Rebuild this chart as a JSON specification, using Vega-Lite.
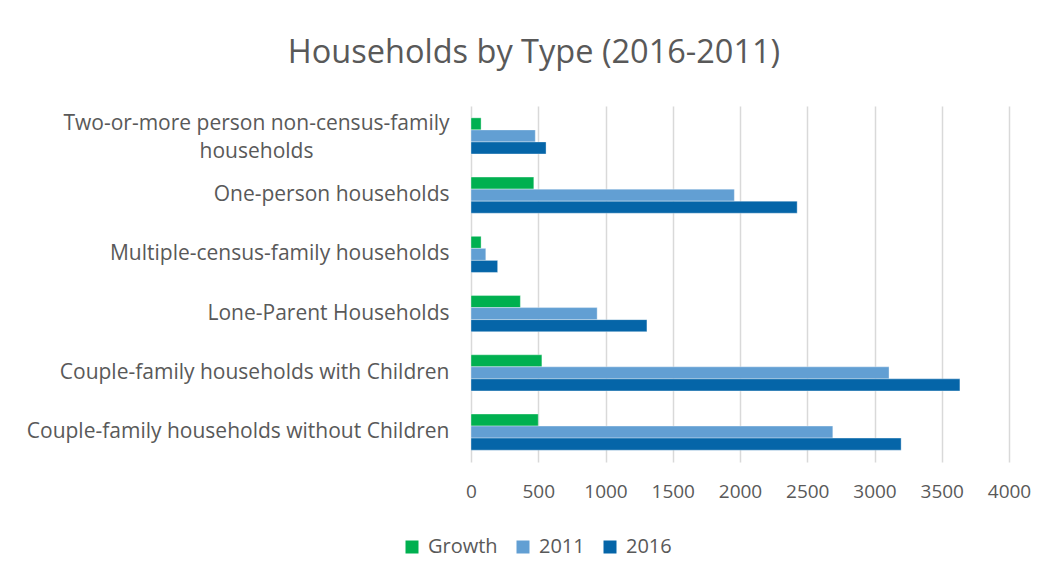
{
  "$schema": "https://vega.github.io/schema/vega-lite/v6.json",
  "width": 538,
  "height": 356,
  "autosize": {"type": "none"},
  "padding": {"left": 471, "top": 106, "right": 42, "bottom": 119},
  "background": "white",
  "title": {
    "text": "Households by Type (2016-2011)",
    "fontSize": 32.5,
    "font": "Open Sans",
    "fontWeight": "normal",
    "color": "#595959",
    "anchor": "middle",
    "dx": -206,
    "offset": 37
  },
  "data": {
    "values": [
      {"type": "Two-or-more person non-census-family households", "series": "Growth", "value": 75},
      {"type": "Two-or-more person non-census-family households", "series": "2011", "value": 478},
      {"type": "Two-or-more person non-census-family households", "series": "2016", "value": 558},
      {"type": "One-person households", "series": "Growth", "value": 467},
      {"type": "One-person households", "series": "2011", "value": 1958},
      {"type": "One-person households", "series": "2016", "value": 2425},
      {"type": "Multiple-census-family households", "series": "Growth", "value": 75},
      {"type": "Multiple-census-family households", "series": "2011", "value": 110},
      {"type": "Multiple-census-family households", "series": "2016", "value": 198},
      {"type": "Lone-Parent Households", "series": "Growth", "value": 367},
      {"type": "Lone-Parent Households", "series": "2011", "value": 938},
      {"type": "Lone-Parent Households", "series": "2016", "value": 1308},
      {"type": "Couple-family households with Children", "series": "Growth", "value": 527},
      {"type": "Couple-family households with Children", "series": "2011", "value": 3108},
      {"type": "Couple-family households with Children", "series": "2016", "value": 3635},
      {"type": "Couple-family households without Children", "series": "Growth", "value": 500},
      {"type": "Couple-family households without Children", "series": "2011", "value": 2690},
      {"type": "Couple-family households without Children", "series": "2016", "value": 3198}
    ]
  },
  "mark": {"type": "bar", "stroke": "white", "strokeOpacity": 0.35, "strokeWidth": 1},
  "encoding": {
    "y": {
      "field": "type",
      "type": "nominal",
      "sort": null,
      "scale": {"paddingInner": 0.39, "paddingOuter": 0.2},
      "axis": {
        "title": null,
        "ticks": false,
        "domain": false,
        "labelFont": "Open Sans",
        "labelFontSize": 21,
        "labelColor": "#595959",
        "labelLimit": 500,
        "labelLineHeight": 28,
        "labelAlign": {"condition": {"test": "datum.value == 'Two-or-more person non-census-family households'", "value": "center"}, "value": "right"},
        "labelPadding": {"condition": {"test": "datum.value == 'Two-or-more person non-census-family households'", "value": 215}, "value": 22},
        "labelOffset": {"condition": {"test": "datum.value == 'Two-or-more person non-census-family households'", "value": -12}, "value": 0},
        "labelExpr": "datum.value == 'Two-or-more person non-census-family households' ? ['Two-or-more person non-census-family', 'households'] : datum.value"
      }
    },
    "yOffset": {"field": "series", "type": "nominal", "sort": ["Growth", "2011", "2016"]},
    "x": {
      "field": "value",
      "type": "quantitative",
      "scale": {"domain": [0, 4000], "nice": false},
      "axis": {
        "title": null,
        "values": [0, 500, 1000, 1500, 2000, 2500, 3000, 3500, 4000],
        "format": "d",
        "labelOverlap": false,
        "labelFlush": false,
        "ticks": false,
        "domain": false,
        "grid": true,
        "gridColor": "#d9d9d9",
        "gridWidth": 1.5,
        "labelFont": "Open Sans",
        "labelFontSize": 19,
        "labelColor": "#595959",
        "labelPadding": 20
      }
    },
    "color": {
      "field": "series",
      "type": "nominal",
      "sort": ["Growth", "2011", "2016"],
      "scale": {"domain": ["Growth", "2011", "2016"], "range": ["#00B050", "#629FD3", "#0565A8"]},
      "legend": {
        "title": null,
        "orient": "none",
        "direction": "horizontal",
        "legendX": -69,
        "legendY": 431,
        "symbolType": "square",
        "symbolSize": 169,
        "symbolStrokeWidth": 0,
        "labelFont": "Open Sans",
        "labelFontSize": 20,
        "labelColor": "#595959",
        "columnPadding": 15,
        "labelOffset": 6
      }
    }
  },
  "config": {"view": {"stroke": null}}
}
